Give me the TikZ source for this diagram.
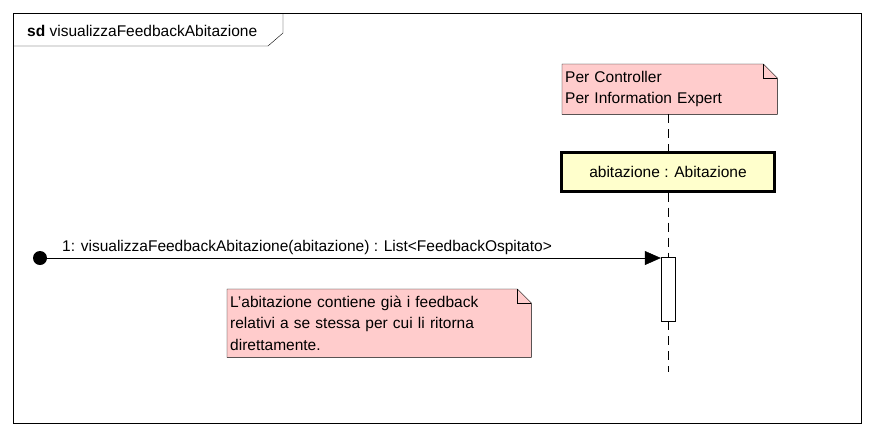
\documentclass[tikz,border=0pt]{standalone}
\usepackage{fontspec}
\setmainfont{Liberation Sans}
\usetikzlibrary{arrows.meta,calc,backgrounds}
\definecolor{notepink}{HTML}{FFCCCC}
\definecolor{objyellow}{HTML}{FFFFCC}

\begin{document}
\begin{tikzpicture}[
    x=1pt, y=-1pt,
    every node/.style={font=\fontsize{15.5}{21.5}\selectfont},
    notebox/.style={rectangle, anchor=north west, inner xsep=3pt, inner ysep=0pt, align=left},
    notefill/.style={draw, fill=notepink},
    objbox/.style={rectangle, draw, line width=3pt, fill=objyellow, minimum width=213pt, minimum height=39pt},
    actbox/.style={rectangle, draw, fill=white, minimum width=14pt, minimum height=64pt, inner sep=0pt},
    lifeline/.style={dash pattern=on 9pt off 6pt},
    message/.style={-{Triangle[length=16pt, width=14pt]}}
]
\useasboundingbox (0,0) rectangle (874,437);

% Frame with the sd tab
\draw (13,13) rectangle (861,423);
\draw (13,46) -- (268,46) -- (283,33) -- (283,13);
\node[anchor=west, inner sep=0pt] (title) at (27,31) {\textbf{sd} visualizzaFeedbackAbitazione};

% Note over the lifeline
\node[notebox, minimum width=215pt, minimum height=50pt, text width=209pt] (note1) at (562,64) {Per Controller\\Per Information Expert};

% Object and activation
\node[objbox] (obj) at (668,171.5) {abitazione : Abitazione};
\node[actbox] (act) at (668,289) {};
\coordinate (life-end) at (668,372);

% Note under the message
\node[notebox, minimum width=304pt, minimum height=68pt, text width=298pt] (note2) at (227,289) {L'abitazione contiene già i feedback\\relativi a se stessa per cui li ritorna\\direttamente.};

% Note shapes (folded corner)
\begin{scope}[on background layer]
\foreach \n in {note1, note2} {
    \draw[notefill] (\n.north west) -- ($(\n.north east)+(-14,0)$) -- ($(\n.north east)+(0,14)$) -- (\n.south east) -- (\n.south west) -- cycle;
    \draw ($(\n.north east)+(-14,0)$) -- ($(\n.north east)+(-14,14)$) -- ($(\n.north east)+(0,14)$);
}
\end{scope}

% Lifeline
\draw[lifeline] (act |- note1.south) -- (act |- obj.north);
\draw[lifeline] (act |- obj.south) -- (act.north);
\draw[lifeline] (act.south) -- (life-end);

% Found message
\node[circle, fill, inner sep=0pt, minimum size=14pt] (start) at (40,258) {};
\draw[message] (start.center) -- (start.center -| act.west);
\node[anchor=west, inner sep=0pt] (msg) at (62,247) {1: visualizzaFeedbackAbitazione(abitazione) : List<FeedbackOspitato>};

\end{tikzpicture}
\end{document}
